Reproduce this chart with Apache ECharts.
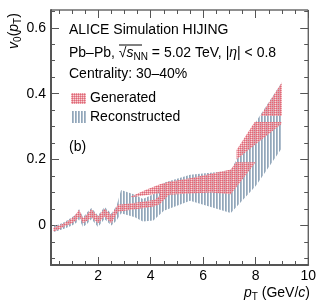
<!DOCTYPE html>
<html><head><meta charset="utf-8">
<script src="https://cdn.jsdelivr.net/npm/echarts@6/dist/echarts.min.js"></script>
<style>html,body{margin:0;padding:0;background:#fff}#c{width:319px;height:308px}</style>
</head><body><div id="c"></div>
<script>
// ---- Reconstructed band (pT, lower, upper) ----
const recoPt = [0.29,0.5,0.7,1.0,1.17,1.27,1.42,1.58,1.74,1.99,2.24,2.5,2.7,2.87,3.4,3.7,4.1,4.5,5.5,7.05,8.0,9.0];
const recoLo = [-0.02,-0.015,-0.01,0.0,0.008,0.02,-0.005,0.005,0.02,-0.005,0.02,0.0,0.015,0.037,0.025,0.012,0.015,0.045,0.075,0.038,0.12,0.235];
const recoHi = [-0.002,0.003,0.01,0.025,0.035,0.05,0.024,0.04,0.053,0.03,0.056,0.036,0.06,0.108,0.093,0.08,0.095,0.13,0.154,0.166,0.314,0.435];
// ---- Generated band, drawn in pieces (as it appears) ----
const genAPt = [0.29,0.5,0.7,1.0,1.17,1.27,1.42,1.58,1.74,1.99,2.24,2.5,2.75,3.2,3.7,4.15,4.35];
const genALo = [-0.018,-0.012,-0.003,0.007,0.016,0.027,0.007,0.014,0.025,0.007,0.027,0.007,0.042,0.047,0.052,0.058,0.065];
const genAHi = [-0.006,0.0,0.007,0.022,0.036,0.048,0.022,0.034,0.049,0.027,0.051,0.032,0.063,0.067,0.072,0.078,0.09];
const genBPt = [3.25,3.8,4.35];
const genBLo = [0.086,0.092,0.098];
const genBHi = [0.088,0.108,0.125];
const genCPt = [4.35,4.7,5.5,6.3,7.05,7.25,8.0];
const genCLo = [0.065,0.093,0.097,0.1,0.095,0.115,0.192];
const genCHi = [0.125,0.133,0.143,0.157,0.17,0.192,0.192];
const genDPt = [7.27,7.96,8.98];
const genDLo = [0.2,0.244,0.308];
const genDHi = [0.229,0.314,0.314];
const genEPt = [8.18,9.0];
const genELo = [0.332,0.332];
const genEHi = [0.332,0.435];
// ---- ticks ----
const xMajor = [2,4,6,8,10];
const xMinor = [0.5,1,1.5,2.5,3,3.5,4.5,5,5.5,6.5,7,7.5,8.5,9,9.5];
const yMajor = [0,0.2,0.4,0.6];
const yMinor = [-0.1,-0.05,0.05,0.1,0.15,0.25,0.3,0.35,0.45,0.5,0.55,0.6,0.65];

const FONT = '"Liberation Sans", Arial, Helvetica, sans-serif';

function makePattern(w, h, pix) {
  const c = document.createElement('canvas'); c.width = w; c.height = h;
  const ctx = c.getContext('2d');
  pix.forEach(p => { ctx.fillStyle = p[2]; ctx.fillRect(p[0], p[1], 1, 1); });
  return c;
}
const redCanvas = makePattern(2, 2, [[0,0,'#de6878'],[1,0,'#eb959e'],[0,1,'#eb959e'],[1,1,'rgba(242,180,186,0.55)']]);
const blueCanvas = makePattern(3, 1, [[0,0,'#92a7ba'],[1,0,'#aebdcc']]);
const redFill = {image: redCanvas, repeat: 'repeat'};
const blueFill = {image: blueCanvas, repeat: 'repeat'};

function band(pt, lo, hi, fill, z) {
  return {
    type: 'custom', coordinateSystem: 'cartesian2d', xAxisIndex: 0, yAxisIndex: 0,
    silent: true, z: z, clip: true,
    data: pt.map((p, i) => [p, lo[i], hi[i]]),
    renderItem: function (params, api) {
      if (params.dataIndex !== 0) return null;
      const pts = [];
      for (let i = 0; i < pt.length; i++) pts.push(api.coord([pt[i], hi[i]]));
      for (let i = pt.length - 1; i >= 0; i--) pts.push(api.coord([pt[i], lo[i]]));
      return {type: 'polygon', shape: {points: pts}, style: {fill: fill, stroke: null}};
    }
  };
}

function xAx(pos, vals, len, labels, line) {
  return {type: 'value', min: 0.2, max: 10, position: pos,
    axisLine: {show: !!line, onZero: false, lineStyle: {color: '#555', width: 2}},
    axisTick: {show: true, inside: true, length: len, customValues: vals, lineStyle: {color: '#555', width: 1}},
    axisLabel: labels ? {show: true, customValues: vals, margin: 4, fontSize: 14, color: '#000', fontFamily: FONT} : {show: false},
    splitLine: {show: false}};
}
function yAx(pos, vals, len, labels, line) {
  return {type: 'value', min: -0.12, max: 0.654, position: pos,
    axisLine: {show: !!line, onZero: false, lineStyle: {color: '#555', width: 2}},
    axisTick: {show: true, inside: true, length: len, customValues: vals, lineStyle: {color: '#555', width: 1}},
    axisLabel: labels ? {show: true, customValues: vals, margin: 5, fontSize: 14, color: '#000', fontFamily: FONT} : {show: false},
    splitLine: {show: false}};
}

const chart = echarts.init(document.getElementById('c'), null, {renderer: 'canvas'});
chart.setOption({
  animation: false,
  backgroundColor: '#fff',
  grid: {left: 51, top: 10, right: 9, bottom: 43, show: true, borderColor: '#222', borderWidth: 1, backgroundColor: 'transparent'},
  xAxis: [xAx('bottom', xMajor, 8, true, true), xAx('bottom', xMinor, 4, false, false),
          xAx('top', xMajor, 8, false, false), xAx('top', xMinor, 4, false, false)],
  yAxis: [yAx('left', yMajor, 8, true, true), yAx('left', yMinor, 4, false, false),
          yAx('right', yMajor, 8, false, false), yAx('right', yMinor, 4, false, false)],
  series: [
    band(recoPt, recoLo, recoHi, blueFill, 2),
    band(genAPt, genALo, genAHi, redFill, 3),
    band(genBPt, genBLo, genBHi, redFill, 3),
    band(genCPt, genCLo, genCHi, redFill, 3),
    band(genDPt, genDLo, genDHi, redFill, 3),
    band(genEPt, genELo, genEHi, redFill, 3)
  ],
  graphic: [
    {type: 'text', x: 69, y: 30, style: {text: 'ALICE Simulation HIJING', font: '14px ' + FONT, fill: '#000', verticalAlign: 'middle'}},
    {type: 'text', x: 69, y: 53, style: {
      text: 'Pb–Pb, {r|√}{i|s}{s|NN} = 5.02 TeV, |{i|η}| < 0.8', font: '14px ' + FONT, fill: '#000', verticalAlign: 'middle',
      rich: {r: {fontSize: 14, fontFamily: FONT}, i: {fontStyle: 'italic', fontSize: 14, fontFamily: FONT}, s: {fontSize: 10, fontFamily: FONT, padding: [8, 0, 0, 0]}}}},
    {type: 'line', shape: {x1: 119, y1: 45, x2: 142, y2: 45}, style: {stroke: '#000', lineWidth: 1}},
    {type: 'text', x: 69, y: 74, style: {text: 'Centrality: 30–40%', font: '14px ' + FONT, fill: '#000', verticalAlign: 'middle'}},
    {type: 'rect', shape: {x: 71, y: 93, width: 15, height: 11}, style: {fill: redFill}},
    {type: 'text', x: 90, y: 98.5, style: {text: 'Generated', font: '14px ' + FONT, fill: '#000', verticalAlign: 'middle'}},
    {type: 'rect', shape: {x: 71, y: 111, width: 15, height: 12}, style: {fill: blueFill}},
    {type: 'text', x: 90, y: 117, style: {text: 'Reconstructed', font: '14px ' + FONT, fill: '#000', verticalAlign: 'middle'}},
    {type: 'text', x: 69, y: 147, style: {text: '(b)', font: '14px ' + FONT, fill: '#000', verticalAlign: 'middle'}},
    {type: 'text', x: 310, y: 293, style: {
      text: '{i|p}{s|T} (GeV/{i|c})', font: '14px ' + FONT, fill: '#000', align: 'right', verticalAlign: 'middle',
      rich: {i: {fontStyle: 'italic', fontSize: 14, fontFamily: FONT}, s: {fontSize: 10, fontFamily: FONT, padding: [8, 0, 0, 0]}}}},
    {type: 'text', x: 14, y: 31, rotation: Math.PI / 2, style: {
      text: '{i|v}{s|0}({i|p}{s|T})', font: '14px ' + FONT, fill: '#000', align: 'center', verticalAlign: 'middle',
      rich: {i: {fontStyle: 'italic', fontSize: 14, fontFamily: FONT}, s: {fontSize: 10, fontFamily: FONT, padding: [8, 0, 0, 0]}}}}
  ]
});
</script></body></html>
